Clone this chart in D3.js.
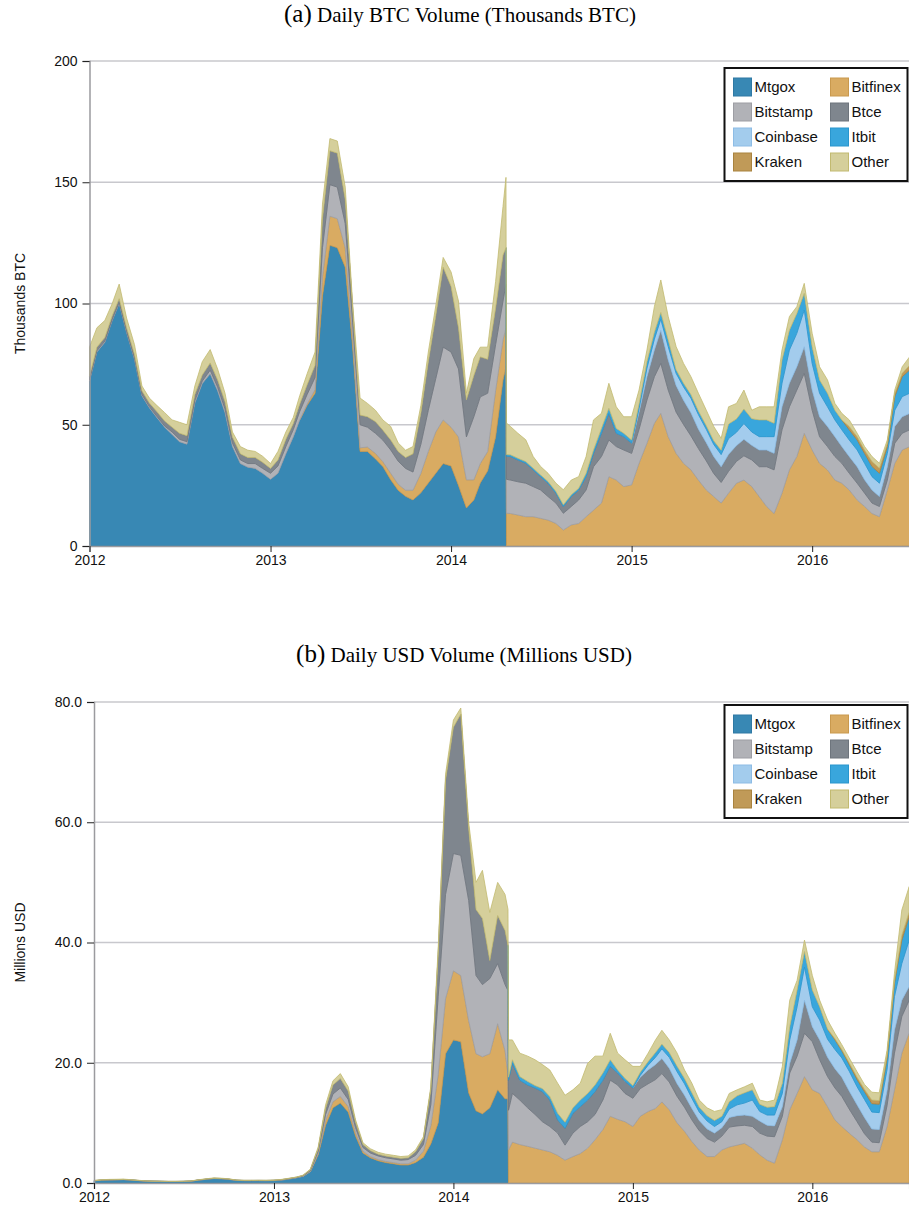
<!DOCTYPE html>
<html>
<head>
<meta charset="utf-8">
<script src="https://cdn.jsdelivr.net/npm/d3@7"></script>
<style>
  body { margin: 0; background: #fff; }
  svg { display: block; font-family: "Liberation Sans", Arial, sans-serif; }
</style>
</head>
<body>
<svg id="chart" width="909" height="1213"></svg>
<script>
// sample dates: 1st and 16th of each month, plus the two days around the Mt.Gox drop-out
const dates = [];
for (let yr = 2012; yr <= 2016; yr++) {
  for (let m = 0; m < 12; m++) {
    for (const day of [1, 16]) {
      if (yr === 2016 && (m > 6 || (m === 6 && day > 16))) continue;
      dates.push(new Date(yr, m, day));
      if (yr === 2014 && m === 3 && day === 16) {
        dates.push(new Date(2014, 3, 22), new Date(2014, 3, 23));
      }
    }
  }
}

const exchanges = ["Mtgox", "Bitfinex", "Bitstamp", "Btce", "Coinbase", "Itbit", "Kraken", "Other"];

// ---- (a) thousands BTC per day ----
const btcMtgox = [68,80,84,93,100,88,77,62,57,53,49,46,43,42,59,67,71,64,55,41,34,32.5,32,30,
  27.5,30,38,45,52,58,63,103,124,123,115,82,39,39,36,32.8,27.3,23,20.5,19,22,26,30,34,33,25,15.7,19,26,31,45,68.5,
  74,0,
  0,0,0,0,0,0,0,0,0,0,0,0,0,0,0,0,0,0,0,0,0,0,0,0,0,0,0,0,0,0,0,0,0,0,0,0,0,0,0,0,0,0,0,0,0,0,0,0,0,0,0,0,0,0];
const btcBitfinex = [0,0,0,0,0,0,0,0,0,0,0,0,0,0,0,0,0,0,0,0,0,0,0,0,0,0,0,0,0,
  0.5,1.5,8,12,12,8,4,1.5,1.8,2.2,2,2.7,2.5,2.5,4,8,13,17,18,16,20,11.6,8.3,8,8,19,16.5,
  16,13.5,
  13.4,12.8,12.1,12.1,11.4,10.7,9.3,6.6,8.7,9.3,12.1,14.8,17.7,28.6,27.2,24.5,25.2,34.1,42.4,50.6,
  54.7,45.1,38.2,34.1,31.4,27.2,23.1,20.4,17.7,21.8,25.9,27.2,24.5,20.4,16.3,13.4,21.8,31.4,36.9,46.5,
  39.6,34.1,31.4,27.2,25.9,23.1,19,16.3,13.4,12.1,23.1,34.1,39.6,41];
const btcBitstamp = [0.5,0.5,0.5,0.5,0.5,0.5,0.5,0.5,0.5,0.5,0.5,1,1,1,1,1,1.5,1.5,1.5,1.5,1.5,1.5,2,2,
  2.5,3,3,3,3.5,4,5,12,13,13,10,6,9.5,8.2,8.3,8.9,9.6,9.5,9,7.5,12,17,22,30,31,28,17.7,26,27.5,24,19,16,
  18,14,
  13.8,13.7,13.8,12.4,11.7,9.7,8.4,6.9,7.6,9.7,11,17.9,19.2,15.1,13.8,15.1,13,14,17.8,19.2,
  20.6,19.2,17,16,14,13,12,9.5,8.5,9,9,10,11,12.3,16.4,18,26.1,26,27.4,24.7,
  16.4,11,9.6,9.7,8.2,6.9,6.9,5.5,4.3,4.2,4.1,8.3,6.9,6.9];
const btcBtce = [1.5,1.5,1.5,1.5,1.5,1.5,1.5,1.5,1.5,2,2,2,2.5,2.5,2.5,2.5,3,3,3,2.5,2.5,2.5,2.5,2.5,
  2,2.5,3,2.5,3,4,5,12,14,14,10,6,4,4.3,4.8,4.1,4.1,4,4.5,7.5,13,20,26,33,27,17,15.3,17,16.5,14,15,19,
  15,9.5,
  9.7,9,8.2,6.9,5.5,5.5,4.1,2.8,4.1,4.1,5.5,5.5,9.6,11,5.5,5.5,4.2,7,9.6,11,
  13.7,12.4,11,10,9.5,8,7.5,7,6.5,7,6.5,6.8,6,6.9,6.9,6.8,9.5,9.7,9.6,11,
  8.3,8.2,8.3,8.2,6.9,6.9,6.8,5.5,5.4,4.1,5.5,6.9,6.8,6.8];
const btcCoinbase = [0,0,0,0,0,0,0,0,0,0,0,0,0,0,0,0,0,0,0,0,0,0,0,0,0,0,0,0,0,0,0,0,0,0,0,0,0,0,0,0,
  0,0,0,0,0,0,0,0,0,0,0,0,0,0,0,0,0,0,0,0,0,0,0,0,0,0,0,0,0,0,0,0,0,0,0,
  1.5,3.5,4.5,4.5,5.5,5,5.5,6,6,5.5,5,5,6.5,5.5,6.5,5.5,5.5,5.5,6.9,9.7,13.7,13.8,15.1,
  11,9.7,8.1,6.9,6.9,6.8,6.9,6.8,5.5,5.5,5.5,6.7,8.3,8.3];
const btcItbit = [0,0,0,0,0,0,0,0,0,0,0,0,0,0,0,0,0,0,0,0,0,0,0,0,0,0,0,0,0,0,0,0,0,0,0,0,0,0,0,0,
  0,0,0,0,0,0,0,0,0,0,0,0,0,0,0,0,0,
  0.7,
  0.7,0.7,0.7,0.7,0.7,0.7,0.7,0.7,0.7,0.7,1.4,1.4,2,2.1,2,1.4,1.3,2,2.7,2.8,
  2.8,2.8,1.5,1.5,1.5,1.5,1.5,1.5,1.8,6,5.5,6,5.5,6.9,6.9,5.5,9.6,8.2,8.2,6.9,
  6.9,5.5,5.6,4,4.1,4.2,4.1,4.1,4.2,4.1,2.8,5.6,8.2,9.6];
const btcKraken = [0,0,0,0,0,0,0,0,0,0,0,0,0,0,0,0,0,0,0,0,0,0,0,0,0,0,0,0,0,0,0,0,0,0,0,0,0,0,0,0,
  0,0,0,0,0,0,0,0,0,0,0,0,0,0,0,0,0,0,0,0,0,0,0,0,0,0,0,0,0,0,0,0,0,0,0,0,0,0,0,0,
  0,0,0,0,0,0,0,0,0,0,0,0,0,0,0,0,0,0,0,0,0,0,0,
  1.4,1.4,1.4,2,2.1,1.4,1.4,1.4,1.9];
const btcOther = [12,8,7,5,6,4,4,2,2,2.5,3.5,3,4.5,4.5,3.5,5.5,5.5,4.5,3.5,2,3,3,2.5,2.5,
  2,3.5,3,2.5,3.5,4.5,5.5,6,5,5,5,2,7,5.5,4.7,4.2,5.6,3.5,3,3,3,4,4,4,6,11,2.7,7,4,5,11,20,
  29,13,
  11.7,10.3,9,4.8,3.5,3.4,3.4,6.2,6.1,4.8,6.9,12.4,6.2,10.3,8.9,6.8,9.6,5.7,4.8,10.6,
  13.4,9.6,9.5,8.2,7.4,7.3,6.4,5.9,4.9,7.1,6.4,7.8,3.5,5.4,5.4,6.8,4.1,5.6,2.8,4.1,
  5.5,5.4,5.5,2.8,2.7,2.7,1.4,1.4,2.1,2,1.4,1.3,2.7,3.5];

// ---- (b) millions USD per day ----
const usdMtgox = [0.36,0.46,0.5,0.53,0.56,0.48,0.39,0.3,0.28,0.26,0.24,0.24,0.25,0.29,0.48,0.61,0.74,0.7,0.6,0.43,0.38,0.38,0.38,0.37,
  0.39,0.46,0.65,0.85,1.1,1.9,4.7,9.6,12.5,13.3,11.8,7.8,5,4.2,3.7,3.4,3.2,3,3,3.4,4.3,6.5,10,21.5,23.8,23.5,15,12,11.5,12.5,15.5,14,
  14,0,
  0,0,0,0,0,0,0,0,0,0,0,0,0,0,0,0,0,0,0,0,0,0,0,0,0,0,0,0,0,0,0,0,0,0,0,0,0,0,0,0,0,0,0,0,0,0,0,0,0,0,0,0,0,0];
const usdBitfinex = [0,0,0,0,0,0,0,0,0,0,0,0,0,0,0,0,0,0,0,0,0,0,0,0,0,0,0,0,0,
  0.02,0.2,0.8,1,1.1,0.9,0.6,0.3,0.2,0.2,0.2,0.2,0.2,0.2,0.4,1,3,8,9.2,11.5,11,12,9.5,9.5,9,11,8,
  4,5.5,
  6.8,6.4,6.1,5.8,5.5,5.2,4.6,3.8,4.4,4.9,5.8,7.2,8.9,11.1,10.6,10.2,9.4,11.1,11.9,12.4,
  13.5,12.2,10,8.6,6.9,5.5,4.4,4.4,5.5,6,6.3,6.6,5.8,4.7,3.8,3.3,7.2,12.2,14.9,17.7,
  15.5,14.9,12.7,10.5,9.4,8.3,7.2,6,5.2,5.2,9.4,15.5,21.6,25];
const usdBitstamp = [0.01,0.01,0.01,0.01,0.01,0.01,0.01,0.01,0.01,0.01,0.01,0.01,0.01,0.01,0.01,0.01,0.02,0.02,0.02,0.02,0.02,0.02,0.03,0.03,
  0.04,0.05,0.05,0.06,0.08,0.15,0.4,1,1.3,1.4,1.2,0.8,0.6,0.6,0.6,0.6,0.6,0.6,0.7,0.8,1.1,3.5,13,17.3,19.5,20,20,13,12,12.5,10,11,
  14,6.6,
  8.1,7.4,6.4,5.6,4.7,4.2,3.7,2.5,3.9,4.5,4.4,4.2,4.9,6,5.7,4.7,4.7,4.6,4.6,4.8,
  4.7,4.6,4.4,4,3.6,3.2,3,2.4,2.3,3.3,3.2,3,3.6,3.6,4,4.4,3.9,6.1,6.2,7.2,
  8,5.6,5,5.3,5,4,3,2.2,1.6,1.5,3.5,6.1,6.1,5.4];
const usdBtce = [0.02,0.02,0.02,0.02,0.02,0.02,0.02,0.02,0.01,0.01,0.01,0.01,0.02,0.02,0.02,0.03,0.03,0.03,0.03,0.03,0.03,0.03,0.03,0.03,
  0.03,0.04,0.05,0.05,0.06,0.13,0.4,1,1.5,1.6,1.4,0.9,0.5,0.4,0.3,0.3,0.3,0.3,0.3,0.6,1,2.5,7,19,21,23.5,12,11,11,3,8,9,
  7.5,5,
  5,3.3,3.8,4.4,5,4.4,2.2,2.8,3.3,3.3,3.6,3.8,3.3,2.3,2,2,1.7,1.9,2.3,2.5,
  2.5,2.3,2.1,2,1.9,1.7,1.6,1.5,1.4,1.6,1.7,1.7,1.7,2,1.8,1.8,1.6,1.6,2.7,5.5,
  2.5,3.3,3.2,3.2,3.2,3,2.8,2.7,2.2,2.2,2.5,3.8,2.7,2.3];
const usdCoinbase = [0,0,0,0,0,0,0,0,0,0,0,0,0,0,0,0,0,0,0,0,0,0,0,0,0,0,0,0,0,0,0,0,0,0,0,0,0,0,0,0,
  0,0,0,0,0,0,0,0,0,0,0,0,0,0,0,0,0,0,0,0,0,0,0,0,0,0,0,0,0,0,0,0,0,0,0,
  0.3,0.8,1.2,1.6,1.8,2,1.9,1.7,1.4,1.3,1.1,1,1.4,1.8,2,2.7,1.6,1.7,1.8,2.2,3.9,5.5,5.5,
  3.3,3.3,3,3.2,3.2,3.3,3,3,2.8,2.8,3.5,5.6,6.1,7.7];
const usdItbit = [0,0,0,0,0,0,0,0,0,0,0,0,0,0,0,0,0,0,0,0,0,0,0,0,0,0,0,0,0,0,0,0,0,0,0,0,0,0,0,0,
  0,0,0,0,0,0,0,0,0,0,0,0,0,0,0,0,0,
  0.5,
  0.6,0.6,0.6,0.4,0.5,0.6,1.1,1,0.9,1.1,1.1,1.1,1.2,1.1,0.5,0.5,0.4,0.5,0.6,0.8,
  0.8,0.8,0.9,0.9,0.9,0.8,0.9,1,0.9,1.2,1.5,1.7,1.7,1.2,1.3,1.4,1.7,2.2,2.8,2.6,
  2.8,2.2,1.7,1.6,1.2,1.1,1.2,1.3,1.4,1.4,1.8,2.2,3.9,3.9];
const usdKraken = [0,0,0,0,0,0,0,0,0,0,0,0,0,0,0,0,0,0,0,0,0,0,0,0,0,0,0,0,0,0,0,0,0,0,0,0,0,0,0,0,
  0,0,0,0,0,0,0,0,0,0,0,0,0,0,0,0,0,0,0,0,0,0,0,0,0,0,0,0,0,0,0,0,0,0,0,0,0,0,0,0,
  0,0,0,0,0,0,0,0,0,0,0,0,0,0,0,0,0,0,0,0,0,
  0.2,0.2,0.3,0.4,0.4,0.6,0.6,0.6,0.5,0.8,0.8];
const usdOther = [0.06,0.06,0.07,0.06,0.06,0.04,0.03,0.02,0.02,0.02,0.02,0.02,0.02,0.03,0.04,0.05,0.06,0.05,0.05,0.02,0.02,0.02,0.01,0.02,
  0.02,0.05,0.05,0.04,0.06,0.1,0.3,0.6,0.7,0.8,0.7,0.4,0.3,0.3,0.3,0.3,0.3,0.3,0.3,0.3,0.3,0.5,1,1,1.2,1,1,4.5,8,8,5.5,6,
  6,6.2,
  3.3,3.9,4.2,4.3,4,4.4,5,4.5,3,2.8,5,4.8,2.8,4.4,2.8,3.1,3.2,1,1.4,2.1,
  2.3,2.1,2.2,1.4,1.6,1.2,1.3,1.5,1.1,1.4,1,1,1.1,0.7,0.9,1.1,2.8,4.4,1.6,1.9,
  2.4,1.1,1.5,0.9,0.8,0.8,0.9,0.8,1.3,1.3,0.8,1.2,4.2,4.2];

const btcTicks = [0, 50, 100, 150, 200];
const usdTicks = [0, 20, 40, 60, 80];

const fillColors = ["#3888b4", "#d9ab62", "#b1b2b7", "#7f868e", "#a3cced", "#39a6dc", "#c09a58", "#d5cf9b"];
const lineColors = ["#2f79a4", "#c9994e", "#9d9ea4", "#6e757d", "#8dbce5", "#2a96cd", "#a9833f", "#c2ba70"];

const svg = d3.select("#chart");
const W = 909;

function panel(cfg) {
  const x = d3.scaleTime().domain(d3.extent(dates)).range([cfg.left, cfg.right]);
  const y = d3.scaleLinear().domain([0, d3.max(cfg.ticks)]).range([cfg.bottom, cfg.top]);

  const rows = dates.map((d, i) => {
    const r = { date: d };
    exchanges.forEach((k, j) => { r[k] = cfg.series[j][i]; });
    return r;
  });
  const layers = d3.stack().keys(exchanges)(rows);

  const g = svg.append("g");

  // title
  const title = g.append("text")
    .attr("x", cfg.titleX).attr("y", cfg.titleY)
    .attr("text-anchor", "middle")
    .style("font-family", "'Liberation Serif', 'Times New Roman', serif")
    .style("fill", "#000");
  title.append("tspan").style("font-size", "25px").text(cfg.tag);
  title.append("tspan").style("font-size", "21px").text(" " + cfg.title);

  // grid
  g.append("g").selectAll("line")
    .data(cfg.ticks.filter(v => v > 0))
    .join("line")
    .attr("x1", cfg.left).attr("x2", W)
    .attr("y1", d => y(d)).attr("y2", d => y(d))
    .attr("stroke", "#c8c8cd").attr("stroke-width", 1.5);

  // stacked areas
  g.append("g").selectAll("path")
    .data(layers)
    .join("path")
    .attr("fill", (d, j) => fillColors[j])
    .attr("stroke", (d, j) => lineColors[j])
    .attr("stroke-width", 0.8)
    .attr("d", (layer, j) => {
      const v = cfg.series[j];
      return d3.area()
        .defined((d, i) => v[i] > 0 || v[i - 1] > 0 || v[i + 1] > 0)
        .x(d => x(d.data.date))
        .y0(d => y(d[0]))
        .y1(d => y(d[1]))(layer);
    });

  // axes
  const yAxis = g.append("g")
    .attr("transform", `translate(${cfg.left},0)`)
    .call(d3.axisLeft(y).tickValues(cfg.ticks).tickFormat(cfg.fmt).tickSize(7).tickPadding(5));
  const xAxis = g.append("g")
    .attr("transform", `translate(0,${cfg.bottom})`)
    .call(d3.axisBottom(x).ticks(d3.timeYear.every(1)).tickFormat(d3.timeFormat("%Y")).tickSize(6).tickPadding(3));
  [yAxis, xAxis].forEach(a => {
    a.select(".domain").attr("stroke", "#9b9b9f").attr("stroke-width", 1.5);
    a.selectAll(".tick line").attr("stroke", "#222");
    a.selectAll(".tick text").style("font-size", "14px").style("fill", "#111")
      .style("font-family", "'Liberation Sans', Arial, sans-serif");
  });

  g.append("text")
    .attr("transform", `translate(25,${(cfg.top + cfg.bottom) / 2}) rotate(-90)`)
    .attr("text-anchor", "middle")
    .style("font-size", "14px").style("fill", "#111")
    .text(cfg.yLabel);

  // legend
  const lg = g.append("g").attr("transform", `translate(724.5,${cfg.legendTop})`);
  lg.append("rect").attr("width", 183).attr("height", 113)
    .attr("fill", "#fff").attr("stroke", "#111").attr("stroke-width", 2);
  const item = lg.selectAll("g.item").data(exchanges).join("g")
    .attr("class", "item")
    .attr("transform", (d, i) => `translate(${9 + (i % 2) * 97},${19 + Math.floor(i / 2) * 25})`);
  item.append("rect").attr("y", -9).attr("width", 18).attr("height", 18)
    .attr("fill", (d, i) => fillColors[i])
    .attr("stroke", (d, i) => lineColors[i]).attr("stroke-width", 1);
  item.append("text").attr("x", 21).attr("dy", "0.36em")
    .style("font-size", "15px").style("fill", "#111")
    .text(d => d);
}

panel({
  tag: "(a)", title: "Daily BTC Volume (Thousands BTC)", titleX: 460, titleY: 22,
  left: 89.5, right: 909.6, top: 61, bottom: 546,
  ticks: btcTicks, fmt: d3.format("d"), yLabel: "Thousands BTC", legendTop: 68,
  series: [btcMtgox, btcBitfinex, btcBitstamp, btcBtce, btcCoinbase, btcItbit, btcKraken, btcOther]
});

panel({
  tag: "(b)", title: "Daily USD Volume (Millions USD)", titleX: 464, titleY: 662,
  left: 94, right: 909.2, top: 702, bottom: 1183,
  ticks: usdTicks, fmt: d3.format(".1f"), yLabel: "Millions USD", legendTop: 705,
  series: [usdMtgox, usdBitfinex, usdBitstamp, usdBtce, usdCoinbase, usdItbit, usdKraken, usdOther]
});
</script>
</body>
</html>
